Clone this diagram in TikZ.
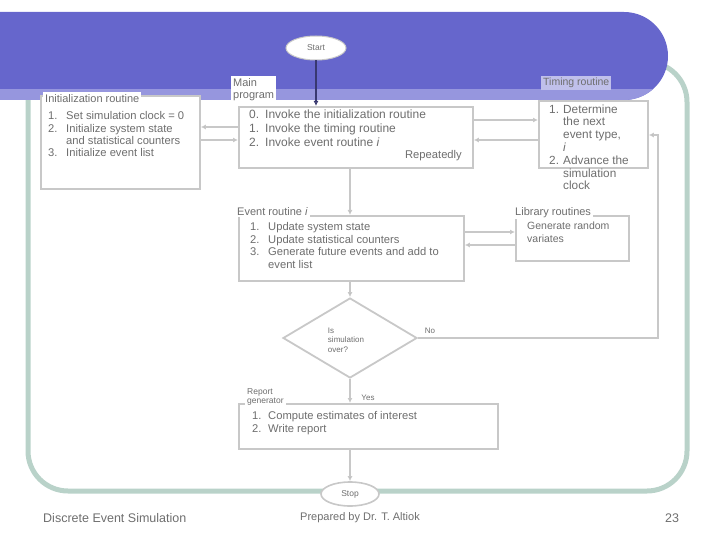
\documentclass[tikz,border=0pt]{standalone}
\usepackage{fontspec}
\setmainfont{Liberation Sans}
\usepackage{array}
\usetikzlibrary{arrows.meta,shapes.geometric}
\definecolor{banner}{RGB}{102,102,204}
\definecolor{stripe}{RGB}{150,150,222}
\definecolor{framec}{RGB}{185,210,201}
\definecolor{boxc}{RGB}{200,200,200}
\definecolor{tipc}{RGB}{160,160,160}
\definecolor{txt}{RGB}{110,110,110}
\begin{document}
\begin{tikzpicture}[x=1pt,y=-1pt,
  box/.style={draw=boxc, line width=1.8pt, fill=white, anchor=north west, inner sep=0pt},
  lbl/.style={fill=white, text=txt, font=\fontsize{11}{12}\selectfont, inner sep=2pt, anchor=north west, align=left},
  body/.style={text=txt, font=\fontsize{11.2}{12.5}\selectfont, anchor=north west, inner sep=0pt, align=left},
  conn/.style={draw=boxc, line width=1.6pt},
  arr/.style={conn, -{Latex[length=5pt,width=5pt,fill=tipc]}},
  small/.style={text=txt, font=\fontsize{8}{9.5}\selectfont, inner sep=0pt},
  foot/.style={text=txt, font=\fontsize{12.5}{14}\selectfont, inner sep=0pt},
]
\useasboundingbox (0,0) rectangle (720,540);

% frame and banner
\draw[framec, line width=5pt, rounded corners=40pt] (28,62) rectangle (687,491);
\fill[banner, rounded corners=44pt] (-60,12) rectangle (668,100);
\begin{scope}
  \clip[rounded corners=44pt] (-60,12) rectangle (668,100);
  \fill[stripe] (-60,89) rectangle (668,100);
\end{scope}

% start
\node[ellipse, draw=boxc, fill=white, line width=1pt, minimum width=60, minimum height=24, inner sep=0pt,
      text=txt, font=\fontsize{8.5}{9}\selectfont] (start) at (316,48) {Start};

% initialization routine
\node[box, minimum width=159, minimum height=93] (init) at (40,95) {};
\node[lbl] (initl) at (43,92) {Initialization routine};
\node[body, font=\fontsize{11.2}{12.3}\selectfont] (initt) at (48,111) {\begin{tabular}{@{}p{18pt}@{}l@{}}
1. & Set simulation clock = 0\\
2. & Initialize system state\\
   & and statistical counters\\
3. & Initialize event list
\end{tabular}};

% main program
\node[box, minimum width=234, minimum height=61] (main) at (238,106) {};
\node[lbl] (mainl) at (231,76) {Main\\program};
\node[body, font=\fontsize{12}{14}\selectfont] (maint) at (249,109) {\begin{tabular}{@{}p{16pt}@{}l@{}}
0. & Invoke the initialization routine\\
1. & Invoke the timing routine\\
2. & Invoke event routine \emph{i}
\end{tabular}};
\node[body, anchor=north east] (mainr) at (462,150) {Repeatedly};

% timing routine
\node[fill=stripe!60!white, text=txt, font=\fontsize{10.5}{11}\selectfont, inner sep=2pt, anchor=north west] (timingl) at (541,76) {Timing routine};
\node[box, minimum width=109, minimum height=67] (timing) at (538,100) {};
\node[body, font=\fontsize{11.8}{12.8}\selectfont] (timingt) at (549,104) {\begin{tabular}{@{}p{14pt}@{}l@{}}
1. & Determine\\
   & the next\\
   & event type,\\
   & \emph{i}\\
2. & Advance the\\
   & simulation\\
   & clock
\end{tabular}};

% event routine
\node[box, minimum width=225, minimum height=65] (event) at (238,215) {};
\node[lbl] (eventl) at (235,205) {Event routine \emph{i}};
\node[body] (eventt) at (250,222) {\begin{tabular}{@{}p{18pt}@{}l@{}}
1. & Update system state\\
2. & Update statistical counters\\
3. & Generate future events and add to\\
   & event list
\end{tabular}};

% library routines
\node[box, minimum width=113, minimum height=45] (lib) at (515,215) {};
\node[lbl] (libl) at (513,205) {Library routines};
\node[body, font=\fontsize{10.5}{12.5}\selectfont] (libt) at (527,222) {Generate random\\variates};

% decision
\node[diamond, draw=boxc, line width=1.8pt, fill=white, minimum width=134, minimum height=80, inner sep=0pt] (dec) at (350,338) {};
\node[small, align=left] (dect) at (346,340) {Is\\simulation\\over?};

% report generator
\node[box, minimum width=259, minimum height=45] (rep) at (238,403) {};
\node[lbl, font=\fontsize{8.5}{9.5}\selectfont] (repl) at (245,386) {Report\\generator};
\node[body] (rept) at (252,411) {\begin{tabular}{@{}p{16pt}@{}l@{}}
1. & Compute estimates of interest\\
2. & Write report
\end{tabular}};

% stop
\node[ellipse, draw=boxc, fill=white, line width=1.6pt, minimum width=58, minimum height=24, inner sep=0pt,
      text=txt, font=\fontsize{8.5}{9}\selectfont] (stop) at (350,494) {Stop};

% connectors
\draw[arr, draw=banner!55!black] (start.south) -- (start.south |- main.north);
\draw[arr] (main.west |- 0,127) -- (init.east |- 0,127);
\draw[arr] (init.east |- 0,140) -- (main.west |- 0,140);
\draw[arr] (main.east |- 0,120) -- (timing.west |- 0,120);
\draw[arr] (timing.west |- 0,140) -- (main.east |- 0,140);
\draw[arr] (dec.north |- main.south) -- (dec.north |- event.north);
\draw[arr] (event.east |- 0,232) -- (lib.west |- 0,232);
\draw[arr] (lib.west |- 0,245) -- (event.east |- 0,245);
\draw[arr] (dec.north |- event.south) -- (dec.north);
\draw[arr] (dec.south) -- (dec.south |- rep.north);
\draw[arr] (dec.south |- rep.south) -- (stop.north);
\coordinate (nocorner) at (658,338);
\coordinate (notop) at (658,135);
\draw[arr] (dec.east) -- (nocorner) -- (notop) -- (timing.east |- notop);
\node[small] (no) at (430,331) {No};
\node[small] (yes) at (368,398) {Yes};

% footer
\node[foot, anchor=west] (f1) at (43,518) {Discrete Event Simulation};
\node[foot, font=\fontsize{11}{13}\selectfont] (f2) at (360,518) {Prepared by Dr. T. Altiok};
\node[foot] (f3) at (672,518) {23};
\end{tikzpicture}
\end{document}
